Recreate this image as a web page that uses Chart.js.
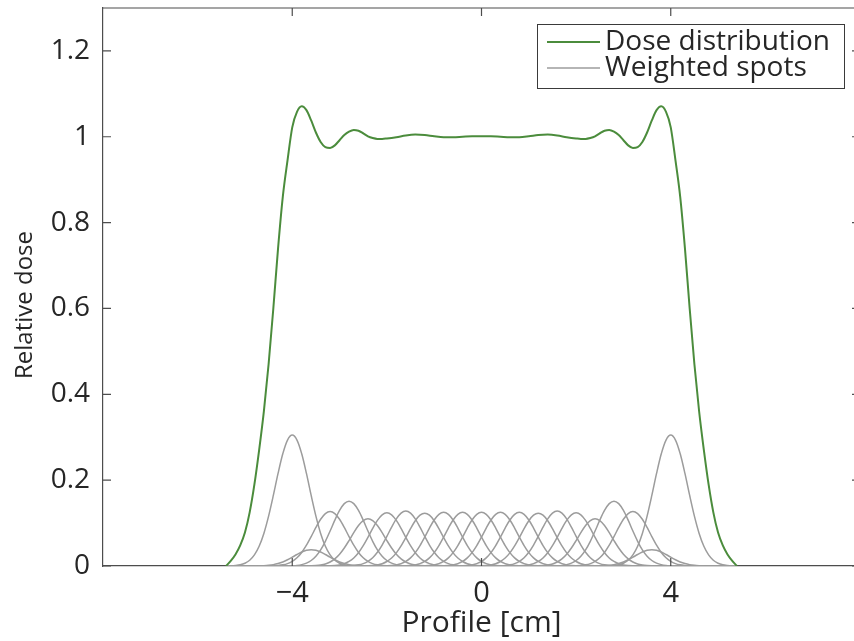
<!DOCTYPE html>
<html>
<head>
<meta charset="utf-8">
<script src="https://cdn.jsdelivr.net/npm/chart.js@4.4.1/dist/chart.umd.min.js"></script>
<style>
    html, body { margin: 0; padding: 0; background: #fff; overflow: hidden; }
    #wrap { width: 870px; height: 641px; }
</style>
</head>
<body>
<div id="wrap"><canvas id="grafico-dose"></canvas></div>
<script>

// =============================
// DADOS
// =============================

const xTicks = [-4, 0, 4];
const yTicks = [0, 0.2, 0.4, 0.6, 0.8, 1, 1.2];

// dose distribution profile [cm] / relative dose
const doseX = [
    -5.4, -5.3, -5.2, -5.1, -5.0, -4.9, -4.8, -4.7, -4.6, -4.5, -4.4, -4.3, -4.2, -4.1, -4.0,
    -3.9, -3.8, -3.7, -3.6, -3.5, -3.4, -3.3, -3.2, -3.1, -3.0, -2.9, -2.8, -2.7, -2.6, -2.5,
    -2.4, -2.3, -2.2, -2.1, -2.0, -1.8, -1.6, -1.4, -1.2, -1.0, -0.8, -0.6, -0.4, -0.2, 0,
    0.2, 0.4, 0.6, 0.8, 1.0, 1.2, 1.4, 1.6, 1.8, 2.0, 2.1, 2.2, 2.3, 2.4,
    2.5, 2.6, 2.7, 2.8, 2.9, 3.0, 3.1, 3.2, 3.3, 3.4, 3.5, 3.6, 3.7, 3.8, 3.9,
    4.0, 4.1, 4.2, 4.3, 4.4, 4.5, 4.6, 4.7, 4.8, 4.9, 5.0, 5.1, 5.2, 5.3, 5.4
];
const doseY = [
    0, 0.012, 0.027, 0.048, 0.078, 0.125, 0.19, 0.27, 0.36, 0.47, 0.60, 0.74, 0.86, 0.945, 1.022,
    1.058, 1.071, 1.062, 1.038, 1.010, 0.988, 0.976, 0.974, 0.980, 0.992, 1.004, 1.012, 1.016, 1.014, 1.008,
    1.001, 0.997, 0.995, 0.995, 0.996, 0.999, 1.003, 1.005, 1.004, 1.001, 0.999, 0.999, 1.000, 1.001, 1.001,
    1.001, 1.000, 0.999, 0.999, 1.001, 1.004, 1.005, 1.003, 0.999, 0.996, 0.995, 0.995, 0.997, 1.001,
    1.008, 1.014, 1.016, 1.012, 1.004, 0.992, 0.980, 0.974, 0.976, 0.988, 1.010, 1.038, 1.062, 1.071, 1.058,
    1.022, 0.945, 0.86, 0.74, 0.60, 0.47, 0.36, 0.27, 0.19, 0.125, 0.078, 0.048, 0.027, 0.012, 0
];

// spot positions [cm] and weighted peak heights
const spotCenters = [
    -4.0, -3.6, -3.2, -2.8, -2.4, -2.0, -1.6, -1.2, -0.8, -0.4, 0,
    0.4, 0.8, 1.2, 1.6, 2.0, 2.4, 2.8, 3.2, 3.6, 4.0
];
const spotPeaks = [
    0.305, 0.038, 0.127, 0.151, 0.110, 0.124, 0.128, 0.123, 0.125, 0.125, 0.125,
    0.125, 0.125, 0.123, 0.128, 0.124, 0.110, 0.151, 0.127, 0.038, 0.305
];
// normalised spot shape, every 0.1 cm away from the spot centre
const spotShape = [1, 0.962, 0.857, 0.707, 0.539, 0.381, 0.249, 0.151, 0.085, 0.044, 0.021, 0.009, 0.004, 0.0015, 0.0005, 0];

const COR_DOSE = "#4b8c3c";
const COR_SPOT = "#9c9c9c";
const COR_EIXO = "#262626";
const FONTE = "'Open Sans', 'DejaVu Sans', sans-serif";

// =============================
// SÉRIES
// =============================

function montarSpot(centro, pico) {

    const ci = Math.round(centro * 10);
    const pontos = [];

    for (let i = -54; i <= 54; i++) {
        const d = Math.abs(i - ci);
        const v = d < spotShape.length ? pico * spotShape[d] : 0;
        pontos.push({ x: i / 10, y: v });
    }

    return pontos;

}

const datasets = [{
    label: "Dose distribution",
    data: doseX.map((x, i) => ({ x: x, y: doseY[i] })),
    borderColor: COR_DOSE,
    borderWidth: 2,
    cubicInterpolationMode: "monotone",
    pointRadius: 0
}];

spotCenters.forEach((c, k) => {
    datasets.push({
        label: k === 0 ? "Weighted spots" : "",
        data: montarSpot(c, spotPeaks[k]),
        borderColor: COR_SPOT,
        borderWidth: 1.5,
        tension: 0.3,
        pointRadius: 0
    });
});

// =============================
// CAIXA, TICKS, TÍTULO Y E LEGENDA
// =============================

const caixaPlugin = {
    id: "caixa",
    afterDraw(chart) {

        const { ctx, chartArea: a, scales } = chart;
        const tl = 8;

        ctx.save();
        ctx.strokeStyle = "#4d4d4d";
        ctx.lineWidth = 1.2;

        ctx.beginPath();
        ctx.moveTo(a.left, a.top);
        ctx.lineTo(a.right, a.top);
        ctx.lineTo(a.right, a.bottom);
        ctx.stroke();

        ctx.beginPath();
        xTicks.forEach(v => {
            const px = scales.x.getPixelForValue(v);
            ctx.moveTo(px, a.bottom);
            ctx.lineTo(px, a.bottom - tl);
            ctx.moveTo(px, a.top);
            ctx.lineTo(px, a.top + tl);
        });
        yTicks.forEach(v => {
            const py = scales.y.getPixelForValue(v);
            ctx.moveTo(a.left, py);
            ctx.lineTo(a.left + tl, py);
            ctx.moveTo(a.right, py);
            ctx.lineTo(a.right - tl, py);
        });
        ctx.stroke();

        // título do eixo y
        ctx.save();
        ctx.translate(25, 305);
        ctx.rotate(-Math.PI / 2);
        ctx.font = "24px " + FONTE;
        ctx.fillStyle = COR_EIXO;
        ctx.textAlign = "center";
        ctx.textBaseline = "middle";
        ctx.fillText("Relative dose", 0, 0);
        ctx.restore();

        // legenda
        const bx = 537, by = 24, bw = 307, bh = 64;
        ctx.fillStyle = "#fff";
        ctx.fillRect(bx, by, bw, bh);
        ctx.strokeStyle = "#3a3a3a";
        ctx.lineWidth = 1;
        ctx.strokeRect(bx + 0.5, by + 0.5, bw, bh);

        const itens = [chart.data.datasets[0], chart.data.datasets[1]];
        ctx.font = "28px " + FONTE;
        ctx.textBaseline = "middle";
        itens.forEach((ds, i) => {
            const y = by + 18 + i * 26;
            ctx.strokeStyle = ds.borderColor;
            ctx.lineWidth = ds.borderWidth;
            ctx.beginPath();
            ctx.moveTo(bx + 10, y);
            ctx.lineTo(bx + 63, y);
            ctx.stroke();
            ctx.fillStyle = COR_EIXO;
            ctx.fillText(ds.label, bx + 68, y);
        });

        ctx.restore();

    }
};

// =============================
// GRÁFICO
// =============================

new Chart(document.getElementById("grafico-dose"), {
    type: "line",
    data: { datasets: datasets },
    plugins: [caixaPlugin],
    options: {
        responsive: true,
        maintainAspectRatio: false,
        animation: false,
        devicePixelRatio: 1,
        layout: { padding: { top: 8, right: 10, left: 0, bottom: 0 } },
        plugins: {
            legend: { display: false },
            tooltip: { enabled: false }
        },
        scales: {
            x: {
                type: "linear",
                min: -8,
                max: 8,
                afterBuildTicks: s => { s.ticks = xTicks.map(v => ({ value: v })); },
                afterFit: s => { s.height = 75; s.paddingLeft = 0; s.paddingRight = 0; },
                grid: { display: false, drawTicks: false },
                border: { color: "#4d4d4d", width: 1.2 },
                ticks: {
                    padding: 10,
                    color: COR_EIXO,
                    font: { family: FONTE, size: 29 },
                    callback: v => v < 0 ? "\u2212" + Math.abs(v) : String(v)
                },
                title: {
                    display: true,
                    text: "Profile [cm]",
                    color: COR_EIXO,
                    font: { family: FONTE, size: 30 },
                    padding: { top: 0, bottom: 0 }
                }
            },
            y: {
                min: 0,
                max: 1.3,
                afterBuildTicks: s => { s.ticks = yTicks.map(v => ({ value: v })); },
                afterFit: s => { s.width = 103; s.paddingTop = 0; s.paddingBottom = 0; },
                grid: { display: false, drawTicks: false },
                border: { color: "#4d4d4d", width: 1.2 },
                ticks: {
                    padding: 13,
                    color: COR_EIXO,
                    font: { family: FONTE, size: 28 },
                    callback: v => String(v)
                }
            }
        }
    }
});

</script>
</body>
</html>
